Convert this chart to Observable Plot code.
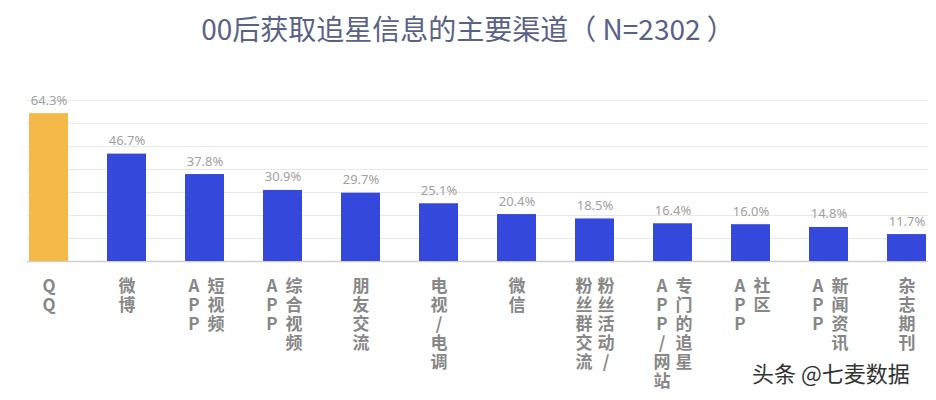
<!DOCTYPE html>
<html>
<head>
<meta charset="utf-8">
<script src="https://cdn.jsdelivr.net/npm/d3@7"></script>
<script src="https://cdn.jsdelivr.net/npm/@observablehq/plot@0.6"></script>
<style>
  body { margin: 0; background: #fff; width: 936px; height: 400px; overflow: hidden; position: relative; }
  #title { height: 60px; line-height: 56px; text-align: center; font-family: "Noto Sans CJK SC", sans-serif; font-size: 28px; color: #5a6187; font-weight: 400; white-space: pre; }
  #mark { position: absolute; left: 752px; top: 356px; font-family: "Noto Sans CJK SC", sans-serif; font-size: 22px; color: #333; text-shadow: 0 0 3px #fff, 0 0 2px #fff; }
  .vlabel text { writing-mode: vertical-rl; text-orientation: upright; letter-spacing: 2px; }
</style>
</head>
<body>
<div id="title">00后获取追星信息的主要渠道（ N=2302 ）</div>
<div id="chart"></div>
<div id="mark">头条 @七麦数据</div>
<script>
const categories = ["QQ","微博","短视频APP","综合视频APP","朋友交流","电视/电调","微信","粉丝活动/粉丝群交流","专门的追星APP/网站","社区APP","新闻资讯APP","杂志期刊"];
const values = [64.3,46.7,37.8,30.9,29.7,25.1,20.4,18.5,16.4,16.0,14.8,11.7];
// vertical label columns, read right-to-left
const labelColumns = [["QQ"],["微博"],["短视频","APP"],["综合视频","APP"],["朋友交流"],["电视/电调"],["微信"],["粉丝活动/","粉丝群交流"],["专门的追星","APP/网站"],["社区","APP"],["新闻资讯","APP"],["杂志期刊"]];
const gridTicks = [10,20,30,40,50,60,70];

const data = categories.map((name, i) => ({name, value: values[i], group: i === 0 ? "hi" : "lo"}));
const cols = [];
categories.forEach((name, i) => {
  const c = labelColumns[i];
  c.forEach((text, j) => cols.push({name, text, offset: c.length === 1 ? 0 : (j === 0 ? 11 : -11)}));
});

const labelStyle = {x: "name", text: "text", frameAnchor: "bottom", dy: 16, textAnchor: "start", lineAnchor: "bottom",
  fontSize: 17, fontWeight: "bold", fill: "#878787", fontFamily: "Noto Sans CJK SC, sans-serif", className: "vlabel"};

const chart = Plot.plot({
  width: 936, height: 340,
  marginTop: 40, marginBottom: 139, marginLeft: 27, marginRight: 8,
  x: {domain: categories, paddingInner: 0.5, paddingOuter: 0, axis: null},
  y: {domain: [0, 70], axis: null},
  color: {domain: ["hi", "lo"], range: ["#f4b949", "#3448dc"]},
  style: {background: "transparent"},
  marks: [
    Plot.ruleY(gridTicks, {stroke: "#e8e8e8", strokeWidth: 1}),
    Plot.ruleY([0], {stroke: "#cfcfcf", strokeWidth: 1.5}),
    Plot.barY(data, {x: "name", y: "value", fill: "group"}),
    Plot.text(data, {x: "name", y: "value", text: d => d.value.toFixed(1) + "%", dy: -9, lineAnchor: "bottom", fill: "#a0a0a0", fontSize: 13, fontFamily: "Noto Sans, sans-serif"}),
    Plot.text(cols.filter(d => d.offset === 0), {...labelStyle}),
    Plot.text(cols.filter(d => d.offset > 0), {...labelStyle, dx: 11}),
    Plot.text(cols.filter(d => d.offset < 0), {...labelStyle, dx: -11})
  ]
});
document.getElementById("chart").append(chart);
</script>
</body>
</html>
